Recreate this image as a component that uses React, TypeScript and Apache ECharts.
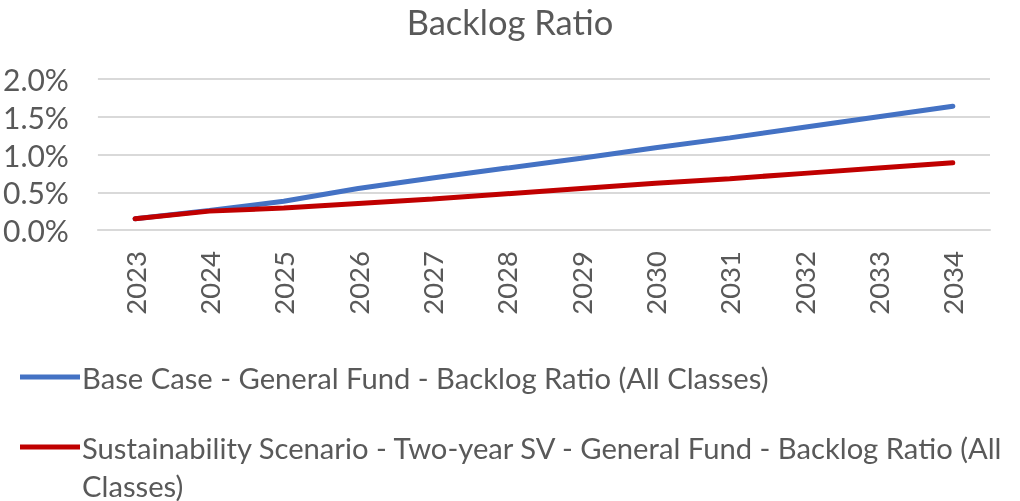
import React, { useEffect, useRef } from "react";
import * as echarts from "echarts";

const years = ["2023", "2024", "2025", "2026", "2027", "2028", "2029", "2030", "2031", "2032", "2033", "2034"];
const baseCase = [0.15, 0.26, 0.38, 0.55, 0.69, 0.82, 0.95, 1.09, 1.22, 1.36, 1.5, 1.64];
const sustainability = [0.15, 0.25, 0.29, 0.35, 0.41, 0.48, 0.55, 0.62, 0.68, 0.75, 0.82, 0.89];
const seriesNames = [
  "Base Case - General Fund - Backlog Ratio (All Classes)",
  "Sustainability Scenario - Two-year SV - General Fund - Backlog Ratio (All Classes)",
];
const colors = ["#4472C4", "#C00000"];
const yTicks = { min: 0, max: 2, interval: 0.5 };

const FONT = "Lato";
const TXT = "#595959";

// legend label for the second series, wrapped before its last word as in the reference
const wrapLast = (s: string) => {
  const i = s.lastIndexOf(" ");
  return s.slice(0, i) + "\n" + s.slice(i + 1);
};

export default function App() {
  const ref = useRef<HTMLDivElement>(null);
  useEffect(() => {
    if (!ref.current) return;
    const chart = echarts.init(ref.current, null, { renderer: "svg" });
    chart.setOption({
      animation: false,
      title: {
        text: "Backlog Ratio",
        left: "center",
        top: -1,
        textStyle: { fontFamily: FONT, fontSize: 34.5, fontWeight: "normal", color: TXT },
      },
      grid: { left: 97, right: 30, top: 79, bottom: 271, containLabel: false },
      xAxis: {
        type: "category",
        data: years,
        boundaryGap: true,
        axisLine: { lineStyle: { color: "#d9d9d9", width: 2 } },
        axisTick: { show: false },
        axisLabel: { rotate: 90, margin: 21, fontFamily: FONT, fontSize: 27.5, color: TXT },
      },
      yAxis: {
        type: "value",
        min: yTicks.min,
        max: yTicks.max,
        interval: yTicks.interval,
        axisLine: { show: false },
        axisTick: { show: false },
        splitLine: { lineStyle: { color: "#d9d9d9", width: 2 } },
        axisLabel: {
          margin: 29,
          fontFamily: FONT,
          fontSize: 30,
          color: TXT,
          formatter: (v: number) => v.toFixed(1) + "%",
        },
      },
      series: [
        {
          name: seriesNames[0],
          type: "line",
          data: baseCase,
          symbol: "none",
          lineStyle: { color: colors[0], width: 5, cap: "round" },
          z: 2,
        },
        {
          name: seriesNames[1],
          type: "line",
          data: sustainability,
          symbol: "none",
          lineStyle: { color: colors[1], width: 5, cap: "round" },
          z: 3,
        },
      ],
      graphic: [
        {
          type: "line",
          shape: { x1: 20, y1: 377, x2: 80, y2: 377 },
          style: { stroke: colors[0], lineWidth: 5 },
        },
        {
          type: "text",
          x: 82,
          y: 377,
          style: {
            text: seriesNames[0],
            fontFamily: FONT,
            fontSize: 29.2,
            fill: TXT,
            verticalAlign: "middle",
          },
        },
        {
          type: "line",
          shape: { x1: 20, y1: 447, x2: 80, y2: 447 },
          style: { stroke: colors[1], lineWidth: 5 },
        },
        {
          type: "text",
          x: 82,
          y: 428,
          style: {
            text: wrapLast(seriesNames[1]),
            fontFamily: FONT,
            fontSize: 29.2,
            fill: TXT,
            lineHeight: 38,
            verticalAlign: "top",
          },
        },
      ],
    });
    return () => chart.dispose();
  }, []);
  return <div ref={ref} style={{ position: "fixed", left: 0, top: 0, width: 1020, height: 501 }} />;
}
